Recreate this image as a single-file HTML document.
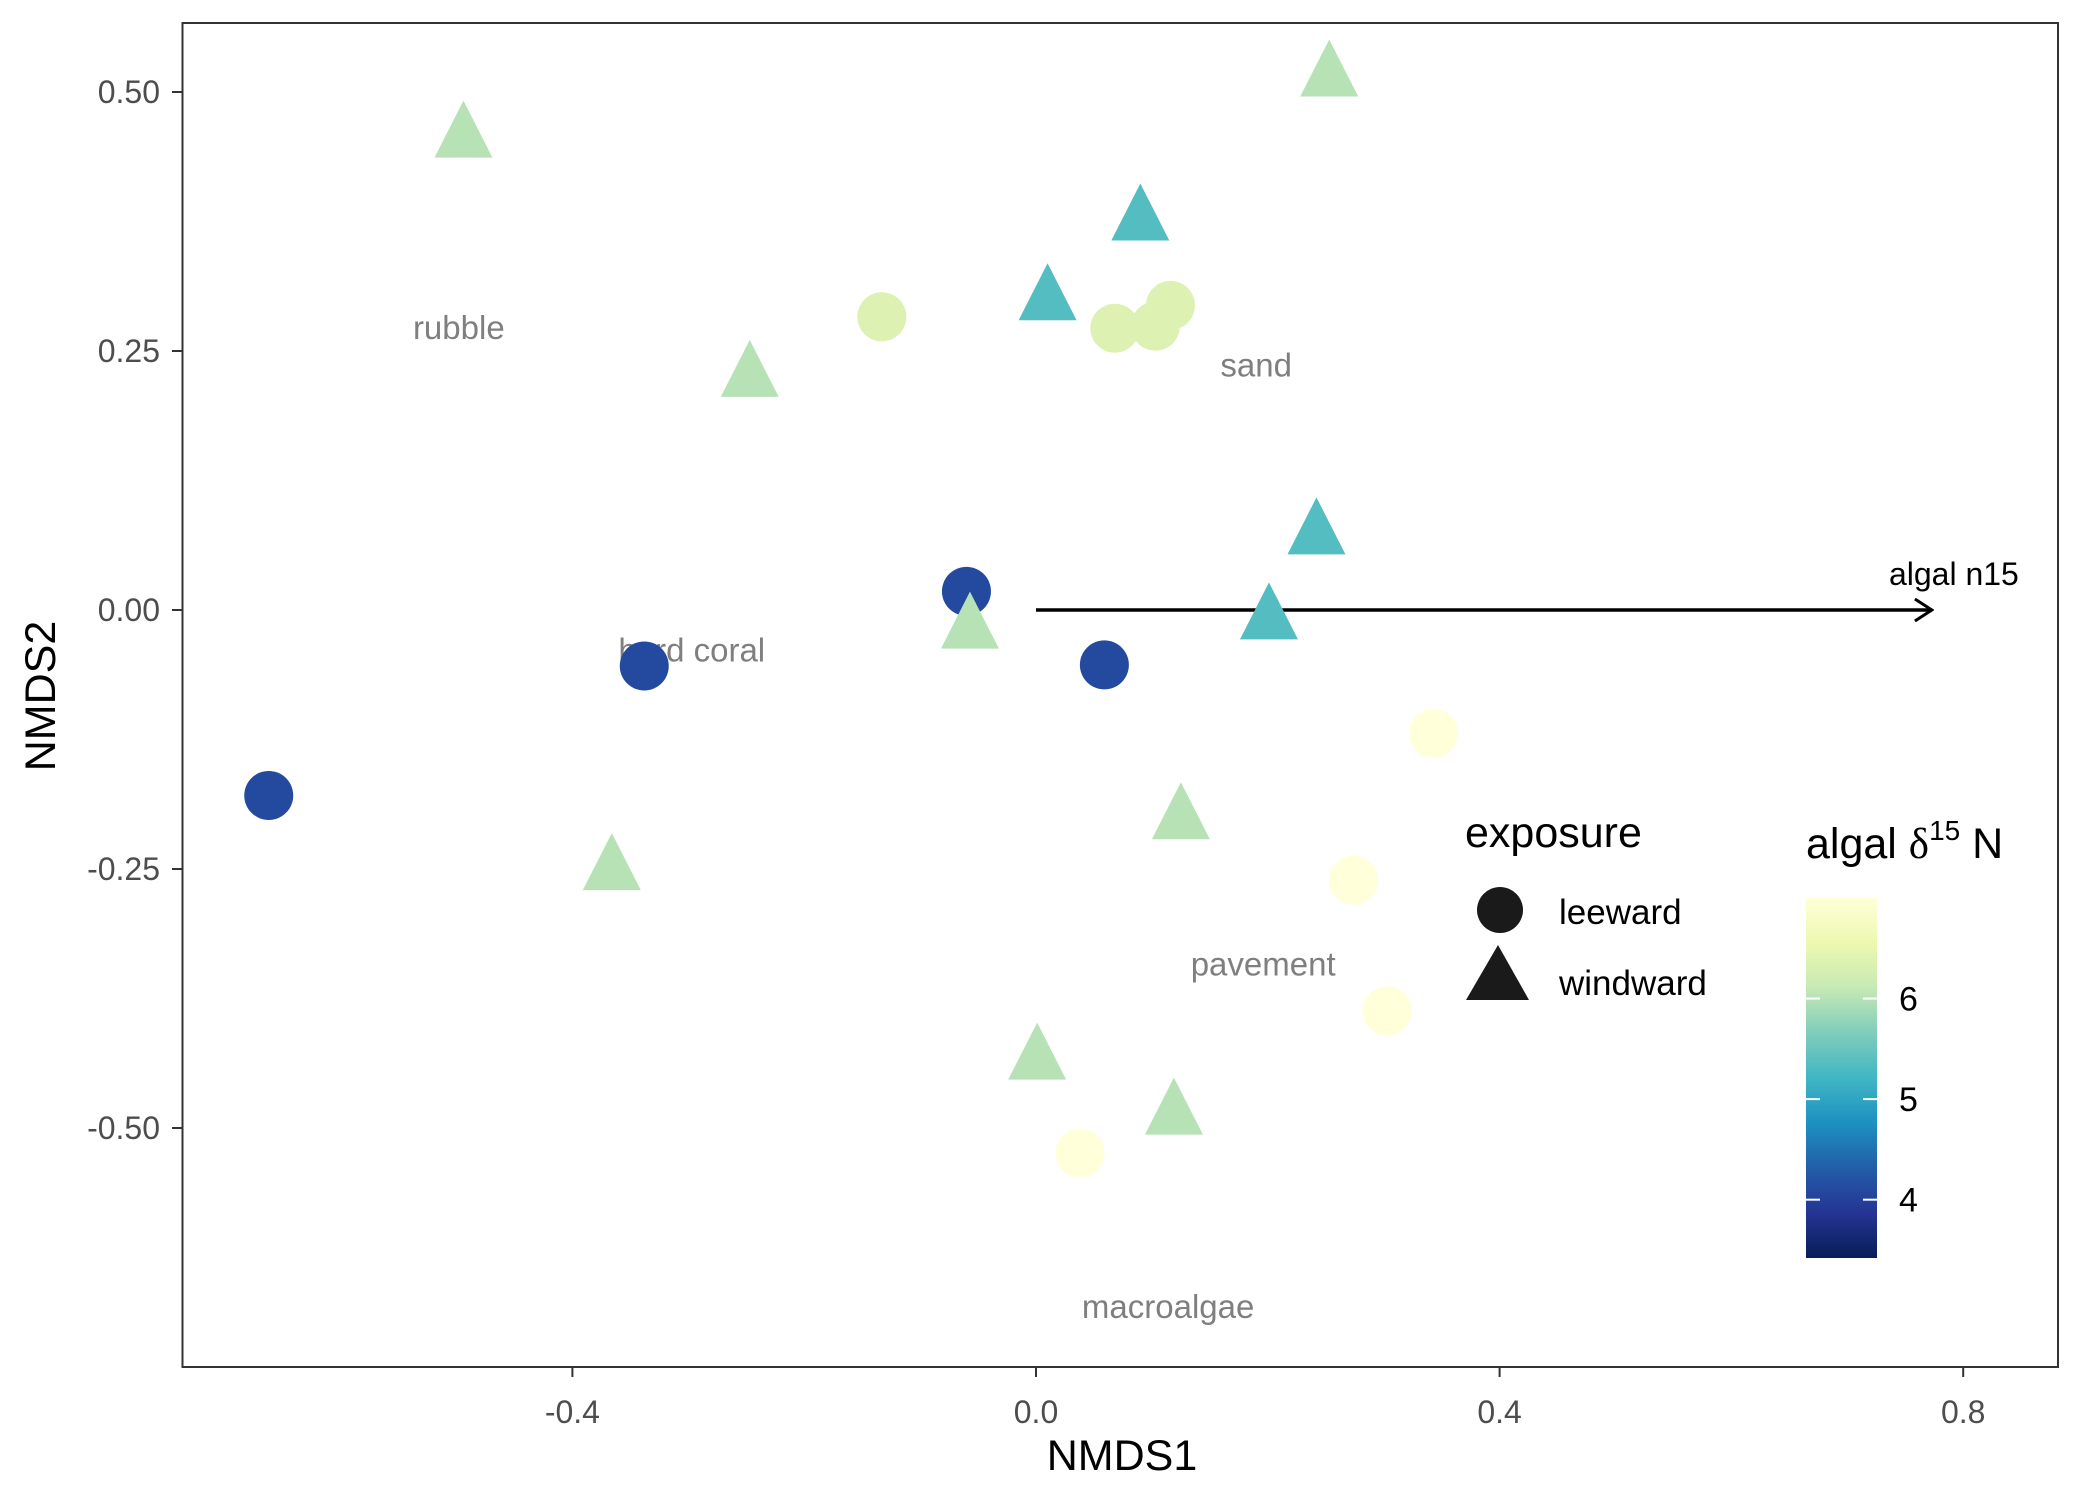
<!DOCTYPE html>
<html><head><meta charset="utf-8"><style>
html,body{margin:0;padding:0;background:#fff;}
svg{display:block;font-family:"Liberation Sans",Arial,sans-serif;}
</style></head><body>
<svg id="chart" width="2100" height="1500" viewBox="0 0 2100 1500">
<defs>
<linearGradient id="cbar" x1="0" y1="1" x2="0" y2="0">
<stop offset="0" stop-color="#081d58"/><stop offset="0.125" stop-color="#253494"/><stop offset="0.25" stop-color="#225ea8"/><stop offset="0.375" stop-color="#1d91c0"/><stop offset="0.5" stop-color="#41b6c4"/><stop offset="0.625" stop-color="#7fcdbb"/><stop offset="0.75" stop-color="#c7e9b4"/><stop offset="0.875" stop-color="#edf8b1"/><stop offset="1" stop-color="#ffffd9"/>
</linearGradient>
<marker id="arrowhead" markerWidth="20" markerHeight="24" refX="18" refY="12" orient="auto" markerUnits="userSpaceOnUse" viewBox="0 0 20 24"><path d="M1,1 L18,12 L1,23" fill="none" stroke="#000" stroke-width="3"/></marker>
</defs>
<rect x="182.5" y="23" width="1875.5" height="1344" fill="#fff" stroke="#333" stroke-width="2"/>
<g id="axes"></g>
<g id="labels"></g>
<g id="points"></g>
<g id="legend"></g>
</svg>
<script>
const leeX = [-0.133, 0.068, 0.103, 0.116, -0.060, 0.059, -0.338, -0.662, 0.343, 0.274, 0.303, 0.038];
const leeY = [0.283, 0.272, 0.274, 0.294, 0.018, -0.053, -0.054, -0.179, -0.119, -0.261, -0.387, -0.524];
const leeN15 = [6.35, 6.35, 6.35, 6.35, 4.1, 4.1, 4.1, 4.1, 7.0, 7.0, 7.0, 7.0];
const windX = [-0.494, 0.253, 0.090, 0.010, -0.247, 0.242, 0.201, -0.057, 0.125, -0.366, 0.001, 0.119];
const windY = [0.455, 0.514, 0.375, 0.298, 0.224, 0.072, -0.010, -0.019, -0.203, -0.252, -0.435, -0.488];
const windN15 = [6.0, 6.0, 5.35, 5.35, 6.0, 5.35, 5.35, 6.0, 6.0, 6.0, 6.0, 6.0];
const substrateNames = ["rubble", "sand", "hard coral", "pavement", "macroalgae"];
const substrateX = [-0.498, 0.190, -0.297, 0.196, 0.114];
const substrateY = [0.272, 0.236, -0.039, -0.342, -0.673];
const arrowEnd = [0.773, 0.0];
const xTicks = [-0.4, 0.0, 0.4, 0.8];
const xTickLabels = ["-0.4", "0.0", "0.4", "0.8"];
const yTicks = [0.5, 0.25, 0, -0.25, -0.5];
const yTickLabels = ["0.50", "0.25", "0.00", "-0.25", "-0.50"];
const cbarTicks = [4, 5, 6];
const cbarMin = 3.42, cbarMax = 7.0;

const NS = "http://www.w3.org/2000/svg";
function X(v){ return 1036 + v * 1159; }
function Y(v){ return 610 - v * 1036; }
const pal = ["#081d58","#253494","#225ea8","#1d91c0","#41b6c4","#7fcdbb","#c7e9b4","#edf8b1","#ffffd9"];
function hex(h){ return [1,3,5].map(i=>parseInt(h.substr(i,2),16)); }
function color(v){
  let t = (v - cbarMin) / (cbarMax - cbarMin); t = Math.max(0, Math.min(1, t));
  const p = t * (pal.length - 1); const i = Math.min(Math.floor(p), pal.length - 2); const f = p - i;
  const a = hex(pal[i]), b = hex(pal[i+1]);
  return "rgb(" + a.map((c,k)=>Math.round(c + (b[k]-c)*f)).join(",") + ")";
}
function mk(tag, attrs, parent, text){
  const e = document.createElementNS(NS, tag);
  for (const k in attrs) e.setAttribute(k, attrs[k]);
  if (text !== undefined) e.textContent = text;
  parent.appendChild(e); return e;
}
const axes = document.getElementById("axes");
xTicks.forEach((v,i)=>{
  const l = mk("line",{x1:X(v),x2:X(v),y1:1367,y2:1377,stroke:"#333","stroke-width":2},axes);
  
  
  const t = mk("text",{x:X(v),y:1423,"text-anchor":"middle","font-size":32,fill:"#4d4d4d"},axes,xTickLabels[i]);
  
  
});
yTicks.forEach((v,i)=>{
  const l = mk("line",{x1:172,x2:182,y1:Y(v),y2:Y(v),stroke:"#333","stroke-width":2},axes);
  
  
  const t = mk("text",{x:160,y:Y(v)+11,"text-anchor":"end","font-size":32,fill:"#4d4d4d"},axes,yTickLabels[i]);
  
  
});
const xt = mk("text",{x:1122,y:1470,"text-anchor":"middle","font-size":43,fill:"#000"},axes,"NMDS1");


const yt = mk("text",{x:0,y:0,"text-anchor":"middle","font-size":43,fill:"#000",transform:"translate(55,696) rotate(-90)"},axes,"NMDS2");



const labels = document.getElementById("labels");
substrateNames.forEach((n,i)=>{
  const t = mk("text",{x:X(substrateX[i]),y:Y(substrateY[i])+11,"text-anchor":"middle","font-size":33,fill:"#7f7f7f"},labels,n);
  
  
});
const ar = mk("line",{x1:X(0),y1:Y(0),x2:X(arrowEnd[0]),y2:Y(arrowEnd[1]),stroke:"#000","stroke-width":3.5,"marker-end":"url(#arrowhead)"},labels);


const at = mk("text",{x:X(arrowEnd[0])+22,y:Y(arrowEnd[1])-25,"text-anchor":"middle","font-size":32,fill:"#000"},labels,"algal n15");



const pts = document.getElementById("points");
leeX.forEach((v,i)=>{
  const c = mk("circle",{cx:X(v),cy:Y(leeY[i]),r:24.5,fill:color(leeN15[i])},pts);
  
  
});
windX.forEach((v,i)=>{
  const cx = X(v), cy = Y(windY[i]);
  const p = mk("polygon",{points:(cx-29)+","+(cy+19)+" "+(cx+29)+","+(cy+19)+" "+cx+","+(cy-38),fill:color(windN15[i])},pts);
  
  
});

const lg = document.getElementById("legend");
const et = mk("text",{x:1465,y:847,"font-size":43,fill:"#000"},lg,"exposure");


const lc = mk("circle",{cx:1500,cy:910,r:23,fill:"#1a1a1a"},lg);


const ltx = mk("text",{x:1559,y:924,"font-size":35,fill:"#000"},lg,"leeward");


const lw = mk("polygon",{points:"1466,1000 1529,1000 1498,945",fill:"#1a1a1a"},lg);


const lwt = mk("text",{x:1559,y:995,"font-size":35,fill:"#000"},lg,"windward");


const ct = mk("text",{x:1806,y:858,"font-size":43,fill:"#000"},lg);


ct.innerHTML = 'algal <tspan font-family="Liberation Serif, serif">δ</tspan><tspan font-size="28" dy="-18">15</tspan><tspan dy="18"> N</tspan>';
const cbTop = 898, cbBot = 1258;
const cb = mk("rect",{x:1806,y:cbTop,width:71,height:cbBot-cbTop,fill:"url(#cbar)"},lg);


cbarTicks.forEach(v=>{
  const y = cbBot - (v - cbarMin) / (cbarMax - cbarMin) * (cbBot - cbTop);
  const a = mk("line",{x1:1806,x2:1820,y1:y,y2:y,stroke:"#fff","stroke-width":2},lg);
  
  
  const b = mk("line",{x1:1863,x2:1877,y1:y,y2:y,stroke:"#fff","stroke-width":2},lg);
  
  
  const t = mk("text",{x:1899,y:y+12,"font-size":34,fill:"#000"},lg,String(v));
  
  
});
</script>
</body></html>
